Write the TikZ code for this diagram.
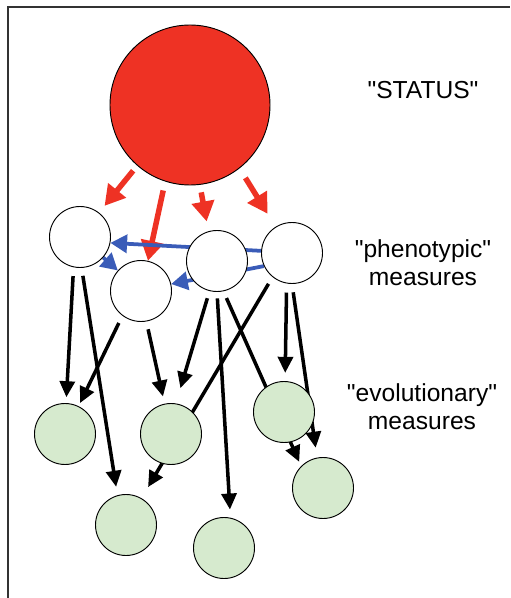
\documentclass[tikz,border=0pt]{standalone}
\usepackage{fontspec}
\newfontfamily\labelfont{Liberation Sans}
\usepackage{tikz}
\usetikzlibrary{arrows.meta,backgrounds}
\definecolor{statusred}{RGB}{238,50,36}
\definecolor{evogreen}{RGB}{214,234,206}
\definecolor{phenoblue}{RGB}{58,92,184}

\begin{document}
\begin{tikzpicture}[x=0.03cm,y=-0.03cm,
ball/.style={draw, shape=circle, line width=0.8pt, inner sep=0pt, minimum size=1.83cm},
status/.style={ball, fill=statusred, minimum size=4.8cm},
pheno/.style={ball, fill=white},
evo/.style={ball, fill=evogreen},
redarrow/.style={draw=statusred, line width=4.7pt, -{Triangle[length=0.6cm,width=0.66cm]}},
bluearrow/.style={draw=phenoblue, line width=3.2pt, -{Triangle[length=0.5cm,width=0.54cm]}},
blackarrow/.style={line width=3pt, -{Triangle[length=0.48cm,width=0.45cm]}},
sidetext/.style={font=\labelfont\fontsize{21}{24}\selectfont, align=center}]
\useasboundingbox (0,0) rectangle (510,598);
\draw[line width=1.4pt, black!80] (8,598) -- (8,7) -- (510,7);

\node (status) [status] at (190,105) {};
\node (phenoA) [pheno] at (80,237) {};
\node (phenoB) [pheno] at (141,291) {};
\node (phenoC) [pheno] at (217,261) {};
\node (phenoD) [pheno] at (292,253) {};
\node (evoA) [evo] at (65,434) {};
\node (evoB) [evo] at (171,434) {};
\node (evoC) [evo] at (284,412) {};
\node (evoD) [evo] at (323,488) {};
\node (evoE) [evo] at (126,525) {};
\node (evoF) [evo] at (224,548) {};

\node (statustext) [sidetext] at (423,90) {"STATUS"};
\node (phenotext) [sidetext] at (423,263) {"phenotypic"\\measures};
\node (evotext) [sidetext] at (422,407) {"evolutionary"\\measures};

% arrows go behind the circles
\begin{scope}[on background layer]
\draw[redarrow, shorten <=5.5pt, shorten >=7.4pt] (status.229) -- (phenoA.52);
\draw[redarrow, shorten <=7.8pt] (status.252) -- (phenoB.77);
\draw[redarrow, shorten <=6.5pt, shorten >=8.5pt] (status.277) -- (phenoC.106);
\draw[redarrow, shorten <=9.5pt, shorten >=13pt] (status.308) -- (phenoD.122);

\draw[bluearrow] (phenoD.176) -- (phenoA.349);
\draw[bluearrow] (phenoD.205) -- (phenoB.13);
\draw[bluearrow] (phenoA) -- (phenoB);

\draw[blackarrow, shorten <=7.5pt, shorten >=5pt] (phenoA.258) -- (evoA.88);
\draw[blackarrow, shorten <=6.8pt, shorten >=7.3pt] (phenoA.273) -- (evoE.106);
\draw[blackarrow, shorten <=6.9pt, shorten >=3pt] (phenoB.233) -- (evoA.64);
\draw[blackarrow, shorten <=6.8pt, shorten >=6.3pt] (phenoB.280) -- (evoB.102);
\draw[blackarrow, shorten <=6.4pt, shorten >=13.6pt] (phenoC.256) -- (evoB.81);
\draw[blackarrow, shorten <=5.5pt, shorten >=7pt] (phenoC.270) -- (evoF.78);
\draw[blackarrow, shorten <=6.3pt, shorten >=4pt] (phenoC.282) -- (evoD.135);
\draw[blackarrow, shorten <=6.7pt, shorten >=11pt] (phenoD.231) -- (evoE.60);
\draw[blackarrow, shorten <=7.7pt, shorten >=7pt] (phenoD.260) -- (evoC.88);
\draw[blackarrow, shorten <=7.2pt, shorten >=8.5pt] (phenoD.270) -- (evoD.101);
\end{scope}
\end{tikzpicture}
\end{document}
